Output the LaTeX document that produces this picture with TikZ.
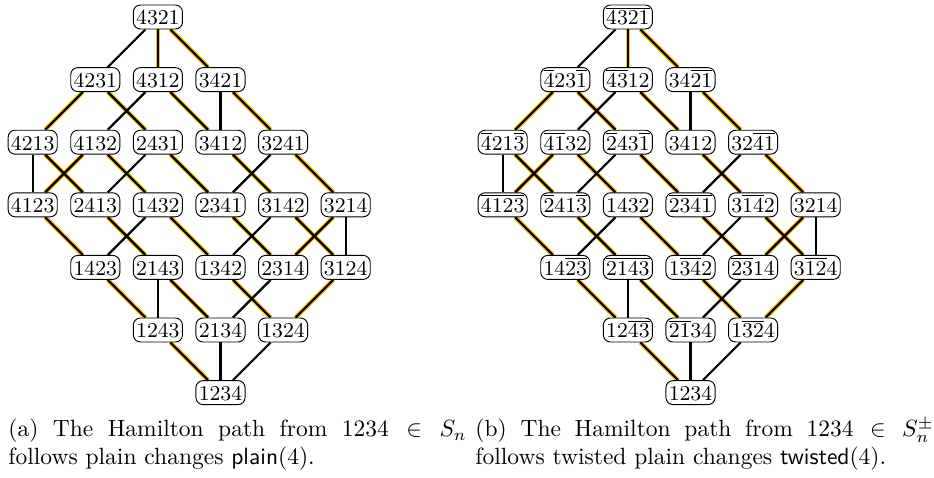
\documentclass[tikz,border=0pt]{standalone}
\usetikzlibrary{backgrounds}
\definecolor{hamyellow}{RGB}{245,195,0}
\begin{document}
\begin{tikzpicture}[x=0.4255pt,y=-0.4255pt,
  perm/.style={draw, line width=0.4pt, rounded corners=3pt, fill=white, font=\small,
    inner xsep=1.2pt, inner ysep=1pt, text height=7.5pt, text depth=0.7pt},
  hamedge/.style={line width=1.9pt, draw=hamyellow},
  graphedge/.style={line width=0.95pt, draw=black},
  captext/.style={anchor=base west, inner sep=0pt}]
\useasboundingbox (0,0) rectangle (934,477);
\foreach \p/\c/\r/\t in {
  4321/2/0/{\overline{4321}},
  4231/1/1/{\overline{4}23\overline{1}},
  4312/2/1/{\overline{43}12},
  3421/3/1/{34\overline{21}},
  4213/0/2/{\overline{4}21\overline{3}},
  4132/1/2/{\overline{41}32},
  2431/2/2/{\overline{2}43\overline{1}},
  3412/3/2/{3412},
  3241/4/2/{32\overline{41}},
  4123/0/3/{\overline{4123}},
  2413/1/3/{\overline{2}41\overline{3}},
  1432/2/3/{1432},
  2341/3/3/{\overline{2341}},
  3142/4/3/{3\overline{14}2},
  3214/5/3/{3214},
  1423/1/4/{14\overline{23}},
  2143/2/4/{\overline{2143}},
  1342/3/4/{1\overline{34}2},
  2314/4/4/{\overline{23}14},
  3124/5/4/{3\overline{12}4},
  1243/2/5/{12\overline{43}},
  2134/3/5/{\overline{21}34},
  1324/4/5/{1\overline{32}4},
  1234/3/6/{1234}}{
  \node[perm] (L\p) at ({32.7+62.6*\c},{17+62.6*\r}) {$\p$};
  \node[perm] (R\p) at ({502.7+62.6*\c},{17+62.6*\r}) {$\t$};
}
\begin{scope}[on background layer]
  \foreach \a/\b in {1234/1243, 1243/1423, 1423/4123, 4123/4132, 4132/1432,
    1432/1342, 1342/1324, 1324/3124, 3124/3142, 3142/3412, 3412/4312,
    4312/4321, 4321/3421, 3421/3241, 3241/3214, 3214/2314, 2314/2341,
    2341/2431, 2431/4231, 4231/4213, 4213/2413, 2413/2143, 2143/2134}{
    \draw[hamedge] (L\a) -- (L\b);
    \draw[hamedge] (R\a) -- (R\b);
  }
  \foreach \a/\b in {1234/1243, 1243/1423, 1423/4123, 4123/4132, 4132/1432,
    1432/1342, 1342/1324, 1324/3124, 3124/3142, 3142/3412, 3412/4312,
    4312/4321, 4321/3421, 3421/3241, 3241/3214, 3214/2314, 2314/2341,
    2341/2431, 2431/4231, 4231/4213, 4213/2413, 2413/2143, 2143/2134,
    4321/4231, 4312/4132, 3421/3412, 4213/4123, 2431/2413, 3241/2341,
    1432/1423, 3142/1342, 3214/3124, 2143/1243, 2314/2134, 2134/1234,
    1324/1234}{
    \draw[graphedge] (L\a) -- (L\b);
    \draw[graphedge] (R\a) -- (R\b);
  }
\end{scope}
\node[captext] (capa1) at (8,436.7) {\makebox[195pt][s]{(a) The Hamilton path from $1234\in S_n$}};
\node[captext] (capa2) at (8,464) {follows plain changes \textsf{plain}$(4)$.};
\node[captext] (capb1) at (475,436.7) {\makebox[195pt][s]{(b) The Hamilton path from $1234\in S_n^{\pm}$}};
\node[captext] (capb2) at (475,464) {follows twisted plain changes \textsf{twisted}$(4)$.};
\end{tikzpicture}
\end{document}
